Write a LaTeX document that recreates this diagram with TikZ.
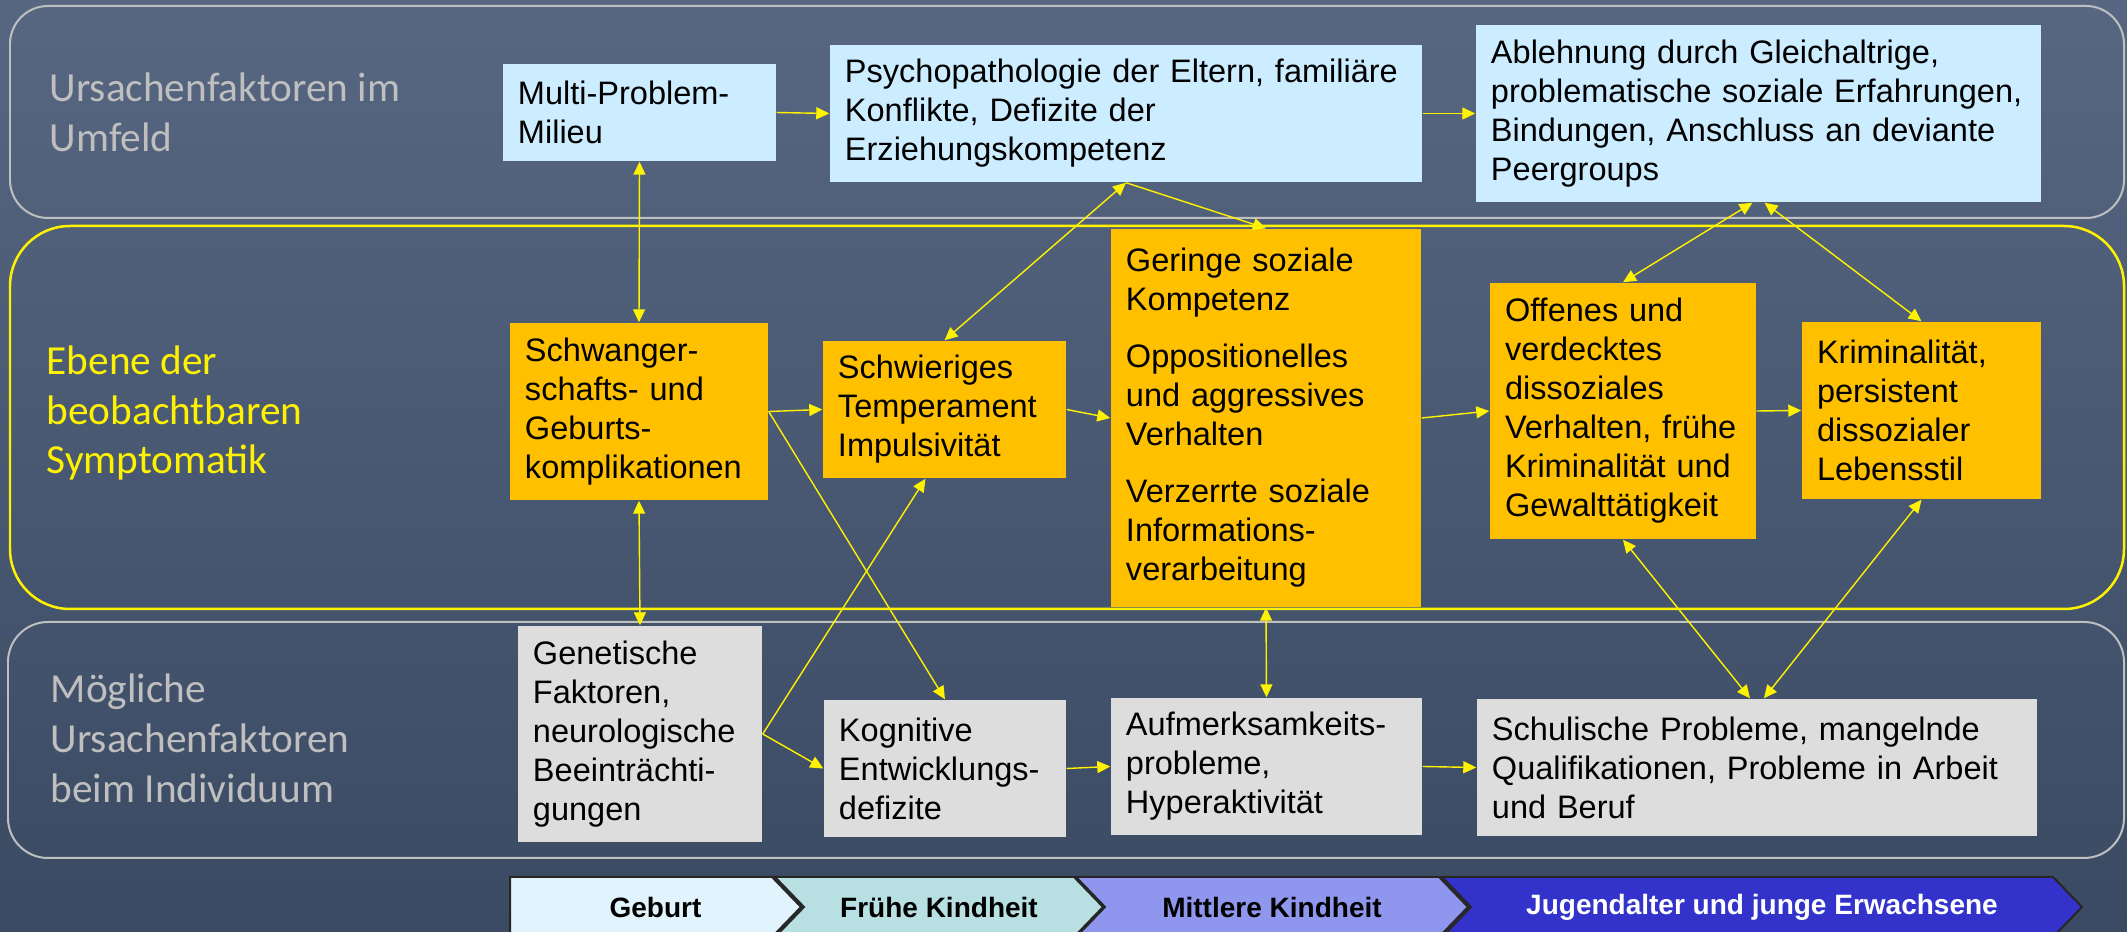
\documentclass[tikz,border=0pt]{standalone}
\usepackage{fontspec}
\setmainfont{Liberation Sans}
\newfontfamily\lanefont{Carlito}
\usetikzlibrary{arrows.meta,calc}
\definecolor{bgtop}{HTML}{576781}
\definecolor{bgbot}{HTML}{3B4A63}
\definecolor{umfeld}{HTML}{CCECFF}
\definecolor{symptom}{HTML}{FFC000}
\definecolor{indiv}{HTML}{DDDDDD}
\definecolor{rahmen}{HTML}{BFBFBF}
\definecolor{phaseA}{HTML}{E1F4FE}
\definecolor{phaseB}{HTML}{B8E0E2}
\definecolor{phaseC}{HTML}{8F96EE}
\definecolor{phaseD}{HTML}{3333CC}
\newcommand{\boxfont}{\fontsize{9.25}{11.1}\selectfont}
\newcommand{\lanesize}{\lanefont\fontsize{11.75}{14.2}\selectfont}
\newcommand{\kasten}[7]{
	\pgfmathsetmacro{\bw}{(#5-#3)*0.1}
	\pgfmathsetmacro{\bh}{(#6-#4)*0.1}
	\pgfmathsetmacro{\tw}{(#5-#3)*0.1-3}
	\node[#2, minimum width=\bw mm, minimum height=\bh mm, text width=\tw mm] (#1) at ({(#3+#5)/2},{(#4+#6)/2}) {#7};
	}
\newcommand{\phase}[7]{
	\draw[phaseline, fill=#5] (#2,877) -- (#4,877) -- (#4+29,907) -- (#4,937) -- (#2,937) -- (#2+#3,907) -- cycle;
	\node[phasetext, text=#6] (#1) at ({(#2+#4+29)/2},907) {#7};
	}

\begin{document}
\begin{tikzpicture}[
      x=0.1mm, y=-0.1mm, %one unit = one pixel of the slide
      base/.style={inner xsep=1.5mm, inner ysep=0pt, align=left, font=\boxfont, text=black},
      umfeldbox/.style={base, fill=umfeld},
      symptombox/.style={base, fill=symptom},
      indivbox/.style={base, fill=indiv},
      panel/.style={draw=rahmen, line width=0.2mm},
      lane/.style={font=\lanesize, align=left, inner sep=0pt, anchor=west},
      pfeil/.style={yellow, line width=0.14mm, >={Triangle[length=1.3mm,width=1.2mm]}},
      phaseline/.style={draw=black!85, line width=0.2mm},
      phasetext/.style={font=\fontsize{7.97}{9}\selectfont\bfseries, inner sep=0pt}
    ]
    \useasboundingbox (0,0) rectangle (2127,932);
    \shade[top color=bgtop, bottom color=bgbot] (0,0) rectangle (2127,932);
    % the three levels
    \draw[panel, rounded corners=3.8mm] (10,6) rectangle (2124,218);
    \draw[yellow, line width=0.25mm, rounded corners=6mm] (10,226) rectangle (2124,609);
    \draw[panel, rounded corners=4mm] (8,622) rectangle (2124,858);
    \node[lane, text=rahmen] (laneUmfeld) at (49,112) {Ursachenfaktoren im\\Umfeld};
    \node[lane, text=yellow] (laneSymptom) at (46,413) {Ebene der\\beobachtbaren\\Symptomatik};
    \node[lane, text=rahmen] (laneIndiv) at (50,738) {Mögliche\\Ursachenfaktoren\\beim Individuum};
    % Umfeld
    \kasten{multi}{umfeldbox}{503}{64}{776}{161}{Multi-Problem-\\Milieu}
    \kasten{psycho}{umfeldbox}{830}{45}{1422}{182}{Psychopathologie der Eltern, familiäre\\Konflikte, Defizite der\\Erziehungskompetenz}
    \kasten{peer}{umfeldbox}{1476}{25}{2041}{202}{Ablehnung durch Gleichaltrige,\\problematische soziale Erfahrungen,\\Bindungen, Anschluss an deviante\\Peergroups}
    % Symptomatik
    \kasten{schwanger}{symptombox}{510}{323}{768}{500}{Schwanger-\\schafts- und\\Geburts-\\komplikationen}
    \kasten{temperament}{symptombox}{823}{341}{1066}{478}{Schwieriges\\Temperament\\Impulsivität}
    \kasten{geringe}{symptombox}{1111}{229}{1421}{607}{Geringe soziale\\Kompetenz\\[1.8mm]Oppositionelles\\und aggressives\\Verhalten\\[1.8mm]Verzerrte soziale\\Informations-\\verarbeitung}
    \kasten{offenes}{symptombox}{1490}{283}{1756}{539}{Offenes und\\verdecktes\\dissoziales\\Verhalten, frühe\\Kriminalität und\\Gewalttätigkeit}
    \kasten{krim}{symptombox}{1802}{322}{2041}{499}{Kriminalität,\\persistent\\dissozialer\\Lebensstil}
    % Individuum
    \kasten{genetisch}{indivbox}{518}{626}{762}{842}{Genetische\\Faktoren,\\neurologische\\Beeinträchti-\\gungen}
    \kasten{kognitiv}{indivbox}{824}{700}{1066}{837}{Kognitive\\Entwicklungs-\\defizite}
    \kasten{aufmerk}{indivbox}{1111}{698}{1422}{835}{Aufmerksamkeits-\\probleme,\\Hyperaktivität}
    \kasten{schul}{indivbox}{1477}{699}{2037}{836}{Schulische Probleme, mangelnde\\Qualifikationen, Probleme in Arbeit\\und Beruf}
    % arrows
    \draw[pfeil, ->] (multi.east) -- (psycho.west);
    \draw[pfeil, ->] (psycho.east) -- (peer.west);
    \draw[pfeil, <->] (multi.south) -- (schwanger.north);
    \draw[pfeil, <->] (schwanger.south) -- (genetisch.north);
    \draw[pfeil, <->] (psycho.south) -- (temperament.north);
    \draw[pfeil, ->] (psycho.south) -- (geringe.north);
    \draw[pfeil, ->] (schwanger.east) -- (temperament.west);
    \draw[pfeil, ->] (schwanger.east) -- (kognitiv.north);
    \draw[pfeil, ->] (genetisch.east) -- ($(temperament.south)+(-19,0)$);
    \draw[pfeil, ->] (genetisch.east) -- (kognitiv.west);
    \draw[pfeil, ->] (kognitiv.east) -- (aufmerk.west);
    \draw[pfeil, ->] (temperament.east) -- (geringe.west);
    \draw[pfeil, ->] (geringe.east) -- (offenes.west);
    \draw[pfeil, ->] (offenes.east) -- (krim.west);
    \draw[pfeil, <->] ($(peer.south)+(-6,0)$) -- (offenes.north);
    \draw[pfeil, <->] ($(peer.south)+(6,0)$) -- (krim.north);
    \draw[pfeil, <->] (offenes.south) -- ($(schul.north)+(-7,0)$);
    \draw[pfeil, <->] (krim.south) -- ($(schul.north)+(7,0)$);
    \draw[pfeil, <->] (geringe.south) -- (aufmerk.north);
    \draw[pfeil, ->] (aufmerk.east) -- (schul.west);
    % age phases
    \phase{geburt}{510}{0}{772}{phaseA}{black}{Geburt}
    \phase{fruehe}{775}{29}{1074}{phaseB}{black}{Frühe Kindheit}
    \phase{mittlere}{1076}{29}{1439}{phaseC}{black}{Mittlere Kindheit}
    \phase{jugend}{1442}{29}{2053}{phaseD}{white}{Jugendalter und junge Erwachsene}
\end{tikzpicture}
\end{document}
